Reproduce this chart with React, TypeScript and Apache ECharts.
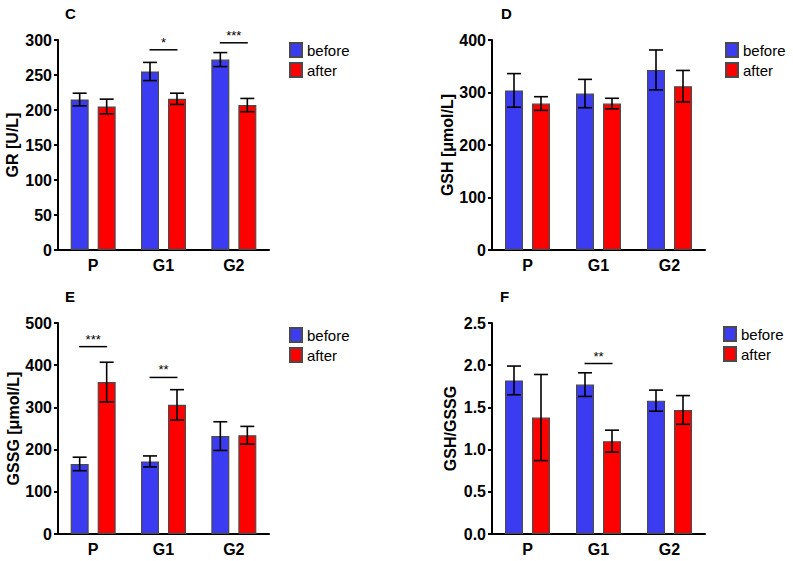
import React, { useEffect, useRef } from "react";
import * as echarts from "echarts";

const categories = ["P", "G1", "G2"];
const seriesNames = ["before", "after"];

const grBefore = [215, 255, 272];
const grBeforeErr = [9, 13, 10];
const grAfter = [205, 216, 207];
const grAfterErr = [10.5, 8, 9.5];
const grSig = [
  { cat: 1, y: 286, label: "*" },
  { cat: 2, y: 296, label: "***" },
];

const gshBefore = [304, 298, 343];
const gshBeforeErr = [32, 27, 38];
const gshAfter = [279, 279, 312];
const gshAfterErr = [13, 10, 30];
const gshSig: { cat: number; y: number; label: string }[] = [];

const gssgBefore = [166, 172, 232];
const gssgBeforeErr = [16, 13, 34];
const gssgAfter = [360, 306, 234];
const gssgAfterErr = [47, 36, 21];
const gssgSig = [
  { cat: 0, y: 444, label: "***" },
  { cat: 1, y: 371, label: "**" },
];

const ratioBefore = [1.82, 1.77, 1.58];
const ratioBeforeErr = [0.17, 0.14, 0.125];
const ratioAfter = [1.38, 1.1, 1.47];
const ratioAfterErr = [0.51, 0.13, 0.17];
const ratioSig = [{ cat: 1, y: 2.02, label: "**" }];

const FONT = '"Liberation Sans", Arial, Helvetica, sans-serif';
const BLUE = "#3b3bf2";
const RED = "#ff0000";
const BORDER = "#4a4a4a";

const panels = [
  {
    letter: "C", title: "GR [U/L]", max: 300, interval: 50, dec: 0,
    before: grBefore, beforeErr: grBeforeErr, after: grAfter, afterErr: grAfterErr, sig: grSig,
    grid: { left: 58, top: 40, width: 211, height: 210 }, nameGap: 38,
    letterPos: [65, 13], legendPos: [289, 42],
  },
  {
    letter: "D", title: "GSH [μmol/L]", max: 400, interval: 100, dec: 0,
    before: gshBefore, beforeErr: gshBeforeErr, after: gshAfter, afterErr: gshAfterErr, sig: gshSig,
    grid: { left: 492, top: 40, width: 213, height: 210 }, nameGap: 35,
    letterPos: [501, 13], legendPos: [725, 42],
  },
  {
    letter: "E", title: "GSSG [μmol/L]", max: 500, interval: 100, dec: 0,
    before: gssgBefore, beforeErr: gssgBeforeErr, after: gssgAfter, afterErr: gssgAfterErr, sig: gssgSig,
    grid: { left: 58, top: 323, width: 211, height: 211 }, nameGap: 37,
    letterPos: [65, 296], legendPos: [289, 327],
  },
  {
    letter: "F", title: "GSH/GSSG", max: 2.5, interval: 0.5, dec: 1,
    before: ratioBefore, beforeErr: ratioBeforeErr, after: ratioAfter, afterErr: ratioAfterErr, sig: ratioSig,
    grid: { left: 492, top: 323, width: 213, height: 211 }, nameGap: 34,
    letterPos: [500, 296], legendPos: [723, 326],
  },
];

const BAR_W = 18;
const SHIFT = 13.5;
const CAP = 7;

function errorSeries(gi: number, means: number[], errs: number[], shift: number) {
  return {
    type: "custom",
    xAxisIndex: gi,
    yAxisIndex: gi,
    z: 5,
    silent: true,
    data: means.map((m, i) => [i, m, errs[i]]),
    renderItem: (params: any, api: any) => {
      const cat = api.value(0);
      const m = api.value(1);
      const e = api.value(2);
      const top = api.coord([cat, m + e]);
      const bot = api.coord([cat, m - e]);
      const x = top[0] + shift;
      const st = { stroke: "#000", lineWidth: 1.6 };
      return {
        type: "group",
        children: [
          { type: "line", shape: { x1: x, y1: top[1], x2: x, y2: bot[1] }, style: st },
          { type: "line", shape: { x1: x - CAP, y1: top[1], x2: x + CAP, y2: top[1] }, style: st },
          { type: "line", shape: { x1: x - CAP, y1: bot[1], x2: x + CAP, y2: bot[1] }, style: st },
        ],
      };
    },
  };
}

function sigSeries(gi: number, sig: { cat: number; y: number; label: string }[]) {
  return {
    type: "custom",
    xAxisIndex: gi,
    yAxisIndex: gi,
    z: 5,
    silent: true,
    data: sig.map((s) => [s.cat, s.y, s.label]),
    renderItem: (params: any, api: any) => {
      const p = api.coord([api.value(0), api.value(1)]);
      const label = sig[params.dataIndex].label;
      return {
        type: "group",
        children: [
          {
            type: "line",
            shape: { x1: p[0] - 14, y1: p[1], x2: p[0] + 14, y2: p[1] },
            style: { stroke: "#000", lineWidth: 1.5 },
          },
          {
            type: "text",
            x: p[0],
            y: p[1] - 1,
            style: {
              text: label,
              fill: "#000",
              font: `13px ${FONT}`,
              textAlign: "center",
              textVerticalAlign: "bottom",
            },
          },
        ],
      };
    },
  };
}

export default function App() {
  const ref = useRef<HTMLDivElement>(null);
  useEffect(() => {
    if (!ref.current) return;
    const chart = echarts.init(ref.current, null, { renderer: "svg" });
    const series: any[] = [];
    panels.forEach((p, gi) => {
      series.push({
        type: "bar",
        name: "before",
        xAxisIndex: gi,
        yAxisIndex: gi,
        data: p.before,
        barWidth: BAR_W,
        barGap: "50%",
        itemStyle: { color: BLUE, borderColor: BORDER, borderWidth: 1.2 },
      });
      series.push({
        type: "bar",
        name: "after",
        xAxisIndex: gi,
        yAxisIndex: gi,
        data: p.after,
        barWidth: BAR_W,
        barGap: "50%",
        itemStyle: { color: RED, borderColor: BORDER, borderWidth: 1.2 },
      });
      series.push(errorSeries(gi, p.before, p.beforeErr, -SHIFT));
      series.push(errorSeries(gi, p.after, p.afterErr, SHIFT));
      if (p.sig.length) series.push(sigSeries(gi, p.sig));
    });

    chart.setOption({
      animation: false,
      textStyle: { fontFamily: FONT },
      grid: panels.map((p) => ({ ...p.grid, containLabel: false })),
      xAxis: panels.map((p, gi) => ({
        type: "category",
        gridIndex: gi,
        data: categories,
        axisLine: { lineStyle: { color: "#000", width: 2 } },
        axisTick: { alignWithLabel: true, length: 4, lineStyle: { color: "#000", width: 2 } },
        axisLabel: { color: "#000", fontSize: 16, fontWeight: "bold", fontFamily: FONT, margin: 7 },
        splitLine: { show: false },
      })),
      yAxis: panels.map((p, gi) => ({
        type: "value",
        gridIndex: gi,
        min: 0,
        max: p.max,
        interval: p.interval,
        name: p.title,
        nameLocation: "middle",
        nameGap: p.nameGap,
        nameTextStyle: { color: "#000", fontSize: 16, fontWeight: "bold", fontFamily: FONT },
        axisLine: { show: true, lineStyle: { color: "#000", width: 2 } },
        axisTick: { show: true, length: 4, lineStyle: { color: "#000", width: 2 } },
        axisLabel: {
          color: "#000",
          fontSize: 16,
          fontWeight: "bold",
          fontFamily: FONT,
          margin: 6,
          formatter: (v: number) => v.toFixed(p.dec),
        },
        splitLine: { show: false },
      })),
      legend: panels.map((p) => ({
        orient: "vertical",
        left: p.legendPos[0],
        top: p.legendPos[1],
        padding: 0,
        itemWidth: 12,
        itemHeight: 14,
        itemGap: 4,
        icon: "rect",
        selectedMode: false,
        data: seriesNames,
        textStyle: { fontSize: 15, color: "#000", fontFamily: FONT },
      })),
      graphic: panels.map((p) => ({
        type: "text",
        x: p.letterPos[0],
        y: p.letterPos[1],
        style: {
          text: p.letter,
          fill: "#000",
          font: `bold 15px ${FONT}`,
          textVerticalAlign: "middle",
        },
      })),
      series,
    });
    return () => chart.dispose();
  }, []);
  return (
    <div
      ref={ref}
      style={{ position: "absolute", left: 0, top: 0, width: 793, height: 561, background: "#fff" }}
    />
  );
}
